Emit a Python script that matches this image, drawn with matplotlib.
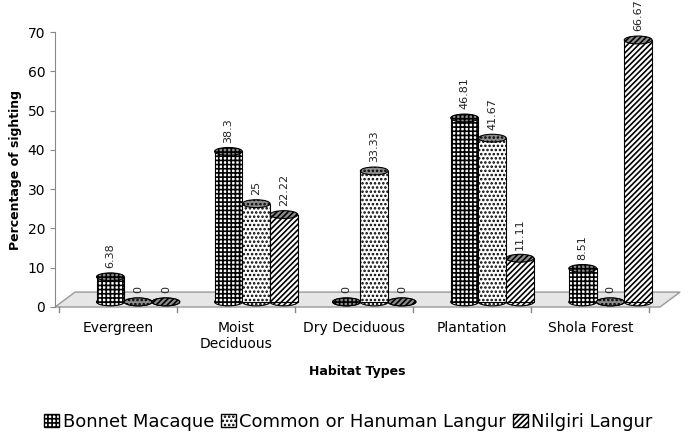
import numpy as np
import matplotlib.pyplot as plt
import matplotlib.patches as mpatches

habitats = ["Evergreen", "Moist\nDeciduous", "Dry Deciduous", "Plantation", "Shola Forest"]
species = ["Bonnet Macaque", "Common or Hanuman Langur", "Nilgiri Langur"]
bonnet = [6.38, 38.3, 0, 46.81, 8.51]
common = [0, 25, 33.33, 41.67, 0]
nilgiri = [0, 22.22, 0, 11.11, 66.67]
value_labels = [["6.38", "38.3", "0", "46.81", "8.51"],
                ["0", "25", "33.33", "41.67", "0"],
                ["0", "22.22", "0", "11.11", "66.67"]]
hatches = ["++++", "....", "//////"]

plt.rcParams["hatch.linewidth"] = 1.2
fig = plt.figure(figsize=(6.97, 4.47), dpi=100)
ax = fig.add_axes([55/697, 140/447, 605/697, 275/447])
ax.set_xlim(-0.534, 4.59)
ax.set_ylim(0, 70)

# floor
depth_x, depth_y = 0.17, 3.8
floor = mpatches.Polygon([[-0.534, 0], [4.59, 0], [4.59 + depth_x, depth_y], [-0.534 + depth_x, depth_y]],
                         closed=True, facecolor="#e6e6e6", edgecolor="#999999", lw=1, clip_on=False, zorder=1)
ax.add_patch(floor)

w = 0.235
base = 1.3
eh = 2.0
for s, vals in enumerate([bonnet, common, nilgiri]):
    for i, v in enumerate(vals):
        xc = i + 0.17 + (s - 1) * w
        z = 3 + s
        ax.add_patch(mpatches.Ellipse((xc, base), w, eh, facecolor="white", edgecolor="black",
                                      hatch=hatches[s], lw=0.8, zorder=z))
        if v > 0:
            ax.add_patch(mpatches.Rectangle((xc - w/2, base), w, v, facecolor="white", edgecolor="black",
                                            hatch=hatches[s], lw=0.8, zorder=z))
        ax.add_patch(mpatches.Ellipse((xc, base + v), w, eh, facecolor="#8c8c8c", edgecolor="black",
                                      hatch=hatches[s], lw=0.8, zorder=z))
        ax.text(xc, base + v + 2.2, value_labels[s][i], rotation=90, ha="center", va="bottom",
                fontsize=8, color="#222222", zorder=10)

for side in ["top", "right", "bottom"]:
    ax.spines[side].set_visible(False)
ax.spines["left"].set_color("#888888")
ax.set_yticks(range(0, 71, 10))
ax.set_xticks(range(5))
ax.set_xticklabels(habitats, fontsize=10)
ax.tick_params(axis="x", length=0, pad=10)
ax.tick_params(axis="y", labelsize=10, color="#888888")
for k in range(6):
    ax.plot([k - 0.5, k - 0.5], [0, -1.2], color="#888888", lw=1, clip_on=False)
ax.set_ylabel("Percentage of sighting", fontsize=9, fontweight="bold")
ax.set_xlabel("Habitat Types", fontsize=9, fontweight="bold", labelpad=10)

handles = [mpatches.Patch(facecolor="white", edgecolor="black", hatch=hatches[s], label=species[s]) for s in range(3)]
fig.legend(handles=handles, loc="lower center", bbox_to_anchor=(0.5, 0.0), ncol=3, frameon=False,
           fontsize=13, handlelength=0.8, handleheight=0.8, handletextpad=0.2, columnspacing=0.4)

fig.savefig("out.png", dpi=100)
